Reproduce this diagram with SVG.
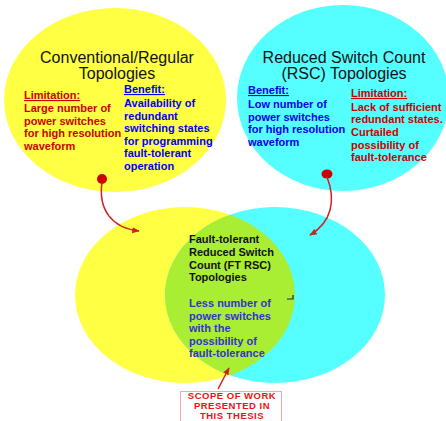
<svg xmlns="http://www.w3.org/2000/svg" width="446" height="421" viewBox="0 0 446 421">
<defs>
<style>
text{font-family:"Liberation Sans",Arial,sans-serif;}
.title{font-size:16px;fill:#111;text-anchor:middle;}
.s{font-size:11px;font-weight:bold;}
.red{fill:#cc0000;}
.blue{fill:#0000ee;}
.blk{fill:#111;}
.pur{fill:#3333cc;}
.conn{fill:none;stroke:#cc2222;stroke-width:1.5;}
.scope{font-size:9.5px;font-weight:bold;fill:#ee1111;text-anchor:middle;letter-spacing:0.5px;}
</style>
<marker id="ah" viewBox="0 0 10 10" refX="9" refY="5" markerWidth="5" markerHeight="5" orient="auto">
<path d="M0,1 L10,5 L0,9 z" fill="#cc2222"/>
</marker>
<clipPath id="cy"><ellipse cx="275" cy="295" rx="110" ry="88"/></clipPath>
</defs>
<rect width="446" height="421" fill="#ffffff"/>
<g id="conventional">
<ellipse cx="115" cy="100" rx="111" ry="92" fill="#ffff44"/>
<text class="title" x="117" y="63">Conventional/Regular</text>
<text class="title" x="117" y="79">Topologies</text>
<text class="s red" x="24" y="99" text-decoration="underline">Limitation:</text>
<text class="s red" x="24" y="112">Large number of</text>
<text class="s red" x="24" y="124.5">power switches</text>
<text class="s red" x="24" y="137">for high resolution</text>
<text class="s red" x="24" y="149.5">waveform</text>
<text class="s blue" x="124" y="93" text-decoration="underline">Benefit:</text>
<text class="s blue" x="124" y="107">Availability of</text>
<text class="s blue" x="124" y="119.5">redundant</text>
<text class="s blue" x="124" y="132">switching states</text>
<text class="s blue" x="124" y="144.5">for programming</text>
<text class="s blue" x="124" y="157">fault-tolerant</text>
<text class="s blue" x="124" y="170">operation</text>
</g>
<g id="rsc">
<ellipse cx="343" cy="98" rx="106" ry="93" fill="#55ffff"/>
<text class="title" x="344" y="63">Reduced Switch Count</text>
<text class="title" x="344" y="79">(RSC) Topologies</text>
<text class="s blue" x="248" y="94" text-decoration="underline">Benefit:</text>
<text class="s blue" x="248" y="107.5">Low number of</text>
<text class="s blue" x="248" y="120.5">power switches</text>
<text class="s blue" x="248" y="133">for high resolution</text>
<text class="s blue" x="248" y="146">waveform</text>
<text class="s red" x="351" y="97" text-decoration="underline">Limitation:</text>
<text class="s red" x="351" y="110.5">Lack of sufficient</text>
<text class="s red" x="351" y="123">redundant states.</text>
<text class="s red" x="351" y="136">Curtailed</text>
<text class="s red" x="351" y="148.5">possibility of</text>
<text class="s red" x="351" y="161">fault-tolerance</text>
</g>
<g id="ftrsc">
<ellipse cx="185" cy="295" rx="110" ry="88" fill="#ffff44"/>
<ellipse cx="275" cy="295" rx="110" ry="88" fill="#55ffff"/>
<ellipse cx="185" cy="295" rx="110" ry="88" fill="#aaee33" clip-path="url(#cy)"/>
<text class="s blk" x="189" y="243">Fault-tolerant</text>
<text class="s blk" x="189" y="256">Reduced Switch</text>
<text class="s blk" x="189" y="268.5">Count (FT RSC)</text>
<text class="s blk" x="189" y="281">Topologies</text>
<text class="s pur" x="189" y="307">Less number of</text>
<text class="s pur" x="189" y="319.5">power switches</text>
<text class="s pur" x="189" y="332">with the</text>
<text class="s pur" x="189" y="344.5">possibility of</text>
<text class="s pur" x="189" y="357">fault-tolerance</text>
<path d="M287,299 H293 V295" fill="none" stroke="#222255" stroke-width="1.2"/>
</g>
<g id="scope">
<rect x="180.5" y="391.5" width="101" height="32" fill="none" stroke="#e05050" stroke-width="1" stroke-dasharray="1,1"/>
<text class="scope" x="232" y="398.5">SCOPE OF WORK</text>
<text class="scope" x="232" y="408.5">PRESENTED IN</text>
<text class="scope" x="232" y="418.5">THIS THESIS</text>
</g>
<g id="connectors">
<circle cx="102" cy="179" r="5" fill="#cc0000"/>
<path class="conn" d="M102,182 C98,210 112,228 139,231" marker-end="url(#ah)"/>
<ellipse cx="327" cy="174" rx="5.5" ry="4.5" fill="#cc0000"/>
<path class="conn" d="M327,177 C336,200 332,222 310,235" marker-end="url(#ah)"/>
<path class="conn" d="M218,389 L229,368" marker-end="url(#ah)"/>
</g>
</svg>
